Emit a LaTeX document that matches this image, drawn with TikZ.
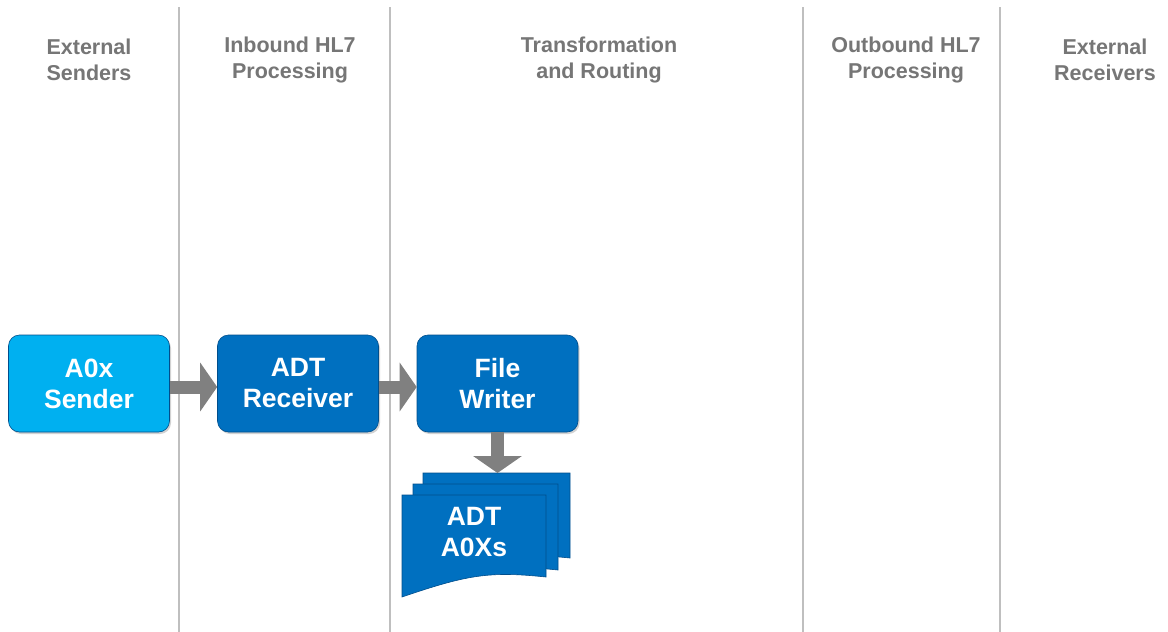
\documentclass[tikz,border=0pt]{standalone}
\usepackage{fontspec}
\setmainfont{Liberation Sans}
\usetikzlibrary{arrows.meta,shadows}
\definecolor{laneline}{RGB}{191,191,191}
\definecolor{headgray}{RGB}{118,118,118}
\definecolor{lightblue}{RGB}{0,176,240}
\definecolor{darkblue}{RGB}{0,112,192}
\definecolor{edgeblue}{RGB}{0,78,140}
\definecolor{arrowgray}{RGB}{128,128,128}
\tikzset{
  lane/.style={draw=laneline, line width=2.5pt},
  header/.style={text=headgray, font=\bfseries\fontsize{21.5}{26}\selectfont, align=center},
  procbox/.style={rounded corners=11pt, minimum width=161pt, minimum height=97pt,
    draw=edgeblue, line width=0.6pt, text=white, align=center,
    font=\bfseries\fontsize{26.5}{31}\selectfont,
    drop shadow={shadow xshift=1.5pt, shadow yshift=-2pt, opacity=0.35}},
  flow/.style={draw=arrowgray, line width=13pt,
    -{Triangle[length=17pt, width=48pt]}, shorten >=0pt},
  docsheet/.style={fill=darkblue, draw=edgeblue, line width=0.6pt},
  doctext/.style={text=white, align=center, font=\bfseries\fontsize{26.5}{31}\selectfont}
}
\begin{document}
\begin{tikzpicture}[x=1pt, y=-1pt]
\useasboundingbox (0,0) rectangle (1168,632);
\fill[white] (0,0) rectangle (1168,632);

% swim lane separators
\foreach \lx in {179,390,803,1000}
  \draw[lane] (\lx,7) -- (\lx,632);

% lane headings
\node[header] (h1) at (89,60) {External\\Senders};
\node[header] (h2) at (290,60) {Inbound HL7\\Processing};
\node[header] (h3) at (599,60) {Transformation\\and Routing};
\node[header] (h4) at (906,60) {Outbound HL7\\Processing};
\node[header] (h5) at (1105,60) {External\\Receivers};

% processing steps
\node[procbox, fill=lightblue] (sender) at (89,383.5) {A0x\\Sender};
\node[procbox, fill=darkblue] (receiver) at (298,383.5) {ADT\\Receiver};
\node[procbox, fill=darkblue] (writer) at (497.5,383.5) {File\\Writer};

% stacked output documents
\foreach \dx/\dy/\dw/\dh in {423/473/147/85, 413/484/145/86, 402/495/144/82} {
  \filldraw[docsheet] (\dx,\dy) -- ++(\dw,0) -- ++(0,\dh)
    .. controls ++(-0.4*\dw,-6) and ++(0.45*\dw,-22) .. (\dx,\dy+\dh+20) -- cycle;
}
\coordinate (doctop) at (497.5,473);
\node[doctext] (docs) at (474,532) {ADT\\A0Xs};

% message flow
\draw[flow] (sender.east |- 0,387) -- (receiver.west |- 0,387);
\draw[flow] (receiver.east |- 0,387) -- (writer.west |- 0,387);
\draw[flow] (writer.south) -- (doctop);
\end{tikzpicture}
\end{document}
